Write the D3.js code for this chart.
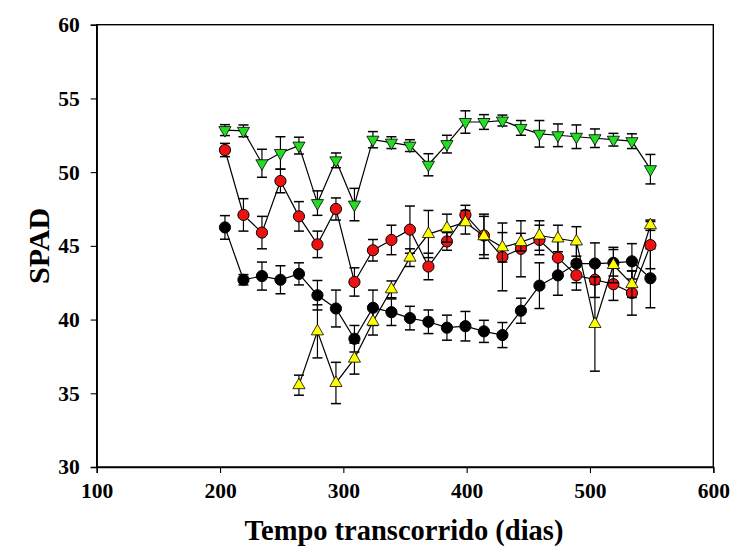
<!DOCTYPE html>
<html>
<head>
<meta charset="utf-8">
<script src="https://cdn.jsdelivr.net/npm/d3@7"></script>
<style>
  html, body { margin: 0; padding: 0; background: #fff; }
  svg { display: block; }
  text { font-family: "Liberation Serif", "Times New Roman", serif; font-weight: bold; fill: #000; }
</style>
</head>
<body>
<svg id="chart" width="735" height="547"></svg>
<script>
// Sampling days (elapsed time)
const days = [204, 219, 234, 249, 264, 279, 294, 309, 324, 339, 354, 369,
              384, 399, 414, 429, 444, 459, 474, 489, 504, 519, 534, 549];

// SPAD means and standard errors per treatment
const blackVals = [46.25, 42.7, 42.95, 42.7, 43.1, 41.65, 40.75, 38.7, 40.8, 40.5, 40.1, 39.85,
                   39.45, 39.55, 39.2, 38.95, 40.6, 42.3, 43.0, 43.8, 43.8, 43.85, 43.95, 42.8];
const blackErr  = [0.8, 0.35, 0.95, 0.95, 0.75, 1.0, 1.25, 0.9, 1.2, 0.9, 0.8, 0.8,
                   0.85, 1.0, 0.75, 0.85, 0.85, 1.55, 1.35, 1.3, 1.4, 0.9, 1.2, 2.0];

const redVals = [51.5, 47.1, 45.9, 49.4, 47.0, 45.1, 47.5, 42.55, 44.7, 45.4, 46.1, 43.6,
                 45.3, 47.1, 45.7, 44.25, 44.8, 45.4, 44.2, 43.0, 42.7, 42.4, 41.8, 45.05];
const redErr  = [0.45, 1.1, 1.1, 0.8, 1.0, 0.9, 0.75, 0.96, 0.73, 1.0, 1.6, 0.9,
                 0.6, 0.65, 1.3, 2.3, 1.9, 1.0, 1.2, 1.0, 1.2, 1.1, 1.5, 1.6];

const yellowDays = days.slice(4);
const yellowVals = [35.55, 39.2, 35.7, 37.35, 39.85, 42.05, 44.2, 45.8, 46.2, 46.6,
                    45.65, 44.9, 45.25, 45.7, 45.5, 45.3, 39.7, 43.7, 42.4, 46.4];
const yellowErr  = [0.68, 1.8, 1.4, 1.05, 0.9, 0.57, 0.6, 1.6, 0.95, 0.8,
                    1.5, 1.0, 0.6, 1.0, 0.9, 1.0, 3.2, 1.2, 0.9, 0.35];

const greenVals = [52.85, 52.8, 50.6, 51.3, 51.8, 47.9, 50.8, 47.8, 52.2, 52.0, 51.8, 50.5,
                   51.9, 53.4, 53.4, 53.5, 53.0, 52.6, 52.5, 52.4, 52.3, 52.2, 52.1, 50.2];
const greenErr  = [0.37, 0.4, 0.95, 1.1, 0.57, 0.83, 0.5, 1.1, 0.55, 0.4, 0.4, 0.75,
                   0.6, 0.76, 0.5, 0.37, 0.5, 0.9, 0.77, 0.8, 0.63, 0.43, 0.5, 1.0];

const xTicks = [100, 200, 300, 400, 500, 600];
const yTicks = [30, 35, 40, 45, 50, 55, 60];

const svg = d3.select("#chart");
const plotLeft = 96.7, plotRight = 713.3, plotTop = 24.7, plotBottom = 467;

const x = d3.scaleLinear().domain([100, 600]).range([plotLeft, plotRight]);
const y = d3.scaleLinear().domain([30, 60]).range([plotBottom, plotTop]);

// frame
svg.append("rect")
  .attr("x", plotLeft).attr("y", plotTop)
  .attr("width", plotRight - plotLeft).attr("height", plotBottom - plotTop)
  .attr("fill", "none").attr("stroke", "#000").attr("stroke-width", 1.4);

// axes
const xAxis = svg.append("g").attr("transform", `translate(0,${plotBottom})`)
  .call(d3.axisBottom(x).tickValues(xTicks).tickSize(6).tickPadding(10).tickFormat(d3.format("d")));
const yAxis = svg.append("g").attr("transform", `translate(${plotLeft},0)`)
  .call(d3.axisLeft(y).tickValues(yTicks).tickSize(6).tickPadding(11).tickFormat(d3.format("d")));
[xAxis, yAxis].forEach(g => {
  g.select(".domain").attr("stroke", "#000").attr("stroke-width", 1.4);
  g.selectAll(".tick line").attr("stroke", "#000").attr("stroke-width", 1.1);
  g.selectAll(".tick text").style("font-size", "21.5px").style("font-family", "Liberation Serif").style("font-weight", "bold");
});

// axis titles
svg.append("text")
  .attr("x", 404).attr("y", 540)
  .attr("text-anchor", "middle").style("font-size", "28.5px")
  .text("Tempo transcorrido (dias)");
svg.append("text")
  .attr("transform", `translate(49,${(plotTop + plotBottom) / 2}) rotate(-90)`)
  .attr("text-anchor", "middle").style("font-size", "30px")
  .text("SPAD");

const series = [
  { d: days, v: blackVals, e: blackErr, color: "#000000", shape: "circle" },
  { d: days, v: redVals, e: redErr, color: "#ee1111", shape: "circle" },
  { d: yellowDays, v: yellowVals, e: yellowErr, color: "#ffff00", shape: "triUp" },
  { d: days, v: greenVals, e: greenErr, color: "#22dd22", shape: "triDown" }
];

const line = d3.line().x(p => x(p.t)).y(p => y(p.v));
const triSym = d3.symbol().type(d3.symbolTriangle).size(64);
const capW = 5;

series.forEach(s => {
  const pts = s.d.map((t, i) => ({ t, v: s.v[i], e: s.e[i] }));
  const g = svg.append("g");

  g.append("path").datum(pts)
    .attr("d", line).attr("fill", "none").attr("stroke", "#000").attr("stroke-width", 1.2);

  const eb = g.selectAll(".eb").data(pts).enter().append("g");
  eb.append("line")
    .attr("x1", p => x(p.t)).attr("x2", p => x(p.t))
    .attr("y1", p => y(p.v + p.e)).attr("y2", p => y(p.v - p.e))
    .attr("stroke", "#000").attr("stroke-width", 1.2);
  [1, -1].forEach(sg => {
    eb.append("line")
      .attr("x1", p => x(p.t) - capW).attr("x2", p => x(p.t) + capW)
      .attr("y1", p => y(p.v + sg * p.e)).attr("y2", p => y(p.v + sg * p.e))
      .attr("stroke", "#000").attr("stroke-width", 1.5);
  });

  if (s.shape === "circle") {
    g.selectAll(".m").data(pts).enter().append("circle")
      .attr("cx", p => x(p.t)).attr("cy", p => y(p.v)).attr("r", 5.6)
      .attr("fill", s.color).attr("stroke", "#000").attr("stroke-width", 1);
  } else {
    const rot = s.shape === "triDown" ? 180 : 0;
    g.selectAll(".m").data(pts).enter().append("path")
      .attr("d", triSym)
      .attr("transform", p => `translate(${x(p.t)},${y(p.v)}) rotate(${rot})`)
      .attr("fill", s.color).attr("stroke", "#000").attr("stroke-width", 0.8);
  }
});
</script>
</body>
</html>
